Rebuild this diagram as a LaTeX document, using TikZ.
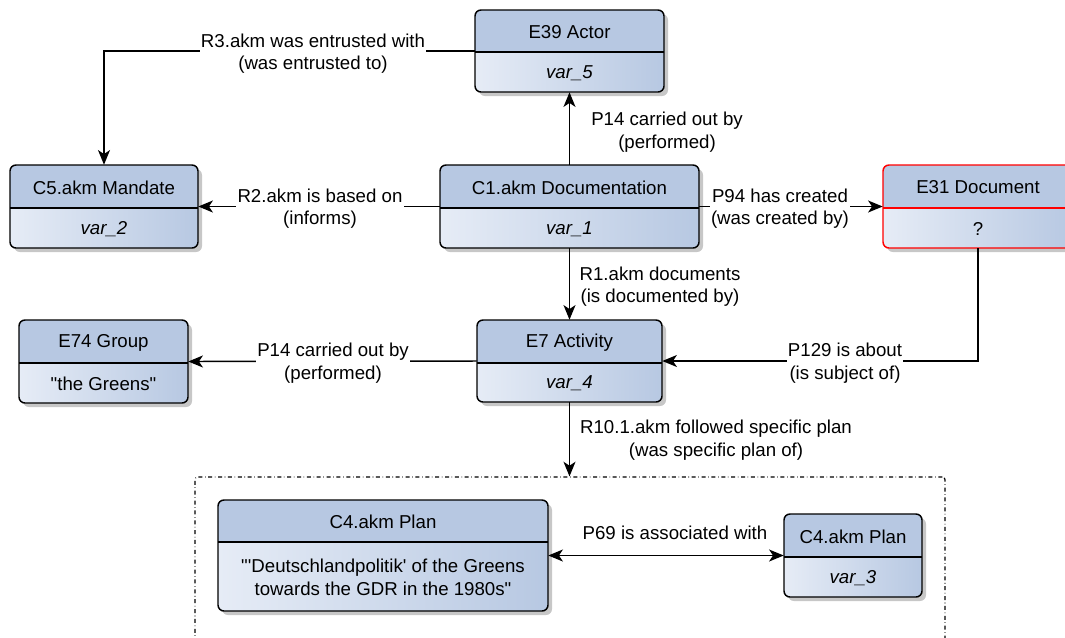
\documentclass[tikz,border=0pt]{standalone}
\usepackage{fontspec}
\setmainfont{Liberation Sans}[Ligatures=TeXOff]
\usetikzlibrary{arrows.meta,fit}
\definecolor{hdr}{HTML}{B7C8E2}
\definecolor{lo}{HTML}{E6ECF6}
\definecolor{redb}{HTML}{FF0000}
\tikzset{
  arr/.style={line width=1.1pt,-{Stealth[length=11pt,width=9pt,inset=3pt]}},
  darr/.style={line width=1.1pt,{Stealth[length=11pt,width=9pt,inset=3pt]}-{Stealth[length=11pt,width=9pt,inset=3pt]}},
  lbl/.style={fill=white,align=center,inner sep=1pt,font=\fontsize{14}{17}\selectfont},
  txt/.style={align=center,inner sep=0pt,font=\fontsize{14}{17}\selectfont},
}
% name x1 y1 x2 ydiv y2 title value border
\newcommand{\ent}[9]{%
  \fill[black,opacity=0.22,rounded corners=4.5pt] (#2+4,#3+4) rectangle (#4+4,#6+4);
  \shade[left color=lo,right color=hdr,rounded corners=4.5pt] (#2,#3) rectangle (#4,#6);
  \fill[hdr] (#2,#5) [rounded corners=4.5pt] -- (#2,#3) -- (#4,#3) [sharp corners] -- (#4,#5) -- cycle;
  \draw[line width=1pt,#9] (#2,#5) -- (#4,#5);
  \draw[line width=1.1pt,#9,rounded corners=4.5pt] (#2,#3) rectangle (#4,#6);
  \node[txt] at ({(#2+#4)/2},{(#3+#5)/2+1}) {#7};
  \node[txt] at ({(#2+#4)/2},{(#5+#6)/2+1}) {#8};
  \node[fit={(#2,#3) (#4,#6)},inner sep=0pt] (#1) {};
}
\begin{document}
\begin{tikzpicture}[x=0.75pt,y=-0.75pt]
\clip (0,0) rectangle (1065,637);
\fill[white] (0,0) rectangle (1065,637);
% group box
\node[fit={(195,477) (945,660)},inner sep=0pt,draw,dash dot,line width=0.9pt,rounded corners=2pt] (grp) {};
\ent{e39}{475}{10}{664}{52}{92}{E39 Actor}{\itshape var\_5}{black}
\ent{c5}{10}{165}{198}{208}{248}{C5.akm Mandate}{\itshape var\_2}{black}
\ent{c1}{440}{165}{699}{208}{248}{C1.akm Documentation}{\itshape var\_1}{black}
\ent{e31}{883}{165}{1073}{208}{248}{E31 Document}{?}{redb}
\ent{e74}{19}{320}{188}{363}{403}{E74 Group}{"the Greens"}{black}
\ent{e7}{477}{320}{662}{363}{402}{E7 Activity}{\itshape var\_4}{black}
\ent{c4a}{218}{500}{548}{542}{611}{C4.akm Plan}{"'Deutschlandpolitik' of the Greens\\towards the GDR in the 1980s"}{black}
\ent{c4b}{784}{514}{922}{557}{597}{C4.akm Plan}{\itshape var\_3}{black}
% connectors
\draw[arr] (e39.west) -| (c5.north);
\node[lbl] at (313,53.5) {R3.akm was entrusted with\\(was entrusted to)};
\draw[arr] (c1.north) -- (e39.south);
\node[txt] at (667,132) {P14 carried out by\\(performed)};
\draw[arr] (c1.west) -- (c5.east);
\node[lbl] at (320,208.5) {R2.akm is based on\\(informs)};
\draw[arr] (c1.east) -- (e31.west);
\node[lbl] at (780,208.5) {P94 has created\\(was created by)};
\draw[arr] (c1.south) -- (e7.north);
\node[txt] at (660,286.5) {R1.akm documents\\(is documented by)};
\draw[arr] (e31.south -| 978,0) |- (e7.east);
\node[lbl] at (845,363) {P129 is about\\(is subject of)};
\draw[arr] (e7.west) -- (e74.east);
\node[lbl] at (333,363) {P14 carried out by\\(performed)};
\draw[arr] (e7.south) -- (e7.south |- grp.north);
\node[txt] at (716,440) {R10.1.akm followed specific plan\\(was specific plan of)};
\draw[darr] (c4a.east |- c4b.west) -- (c4b.west);
\node[txt] at (675,533) {P69 is associated with};
\end{tikzpicture}
\end{document}
